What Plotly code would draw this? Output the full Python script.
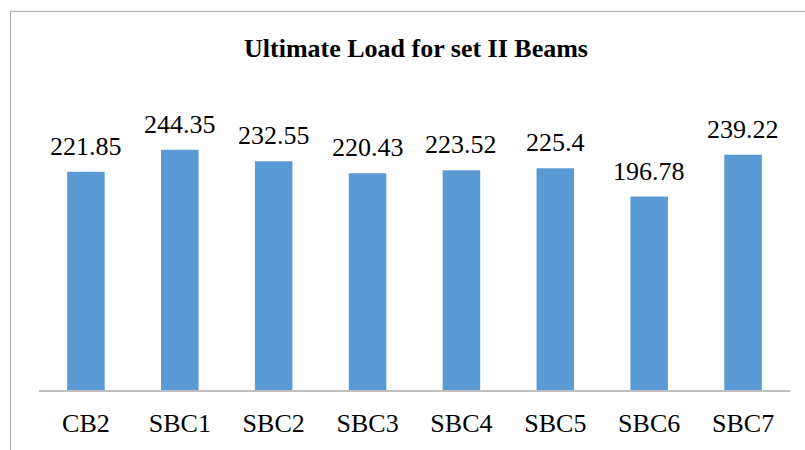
import plotly.graph_objects as go

categories = ["CB2", "SBC1", "SBC2", "SBC3", "SBC4", "SBC5", "SBC6", "SBC7"]
loads = [221.85, 244.35, 232.55, 220.43, 223.52, 225.4, 196.78, 239.22]
labels = ["221.85", "244.35", "232.55", "220.43", "223.52", "225.4", "196.78", "239.22"]

W, H = 805, 450
ML, MR, MT, MB = 39, 15, 95, 57
plot_w = W - ML - MR
plot_h = H - MT - MB

serif = "Liberation Serif, Times New Roman, serif"
FS = 26

fig = go.Figure(go.Bar(
    x=categories, y=loads, marker=dict(color="#5B9BD5", line=dict(width=0)),
    hoverinfo="x+y",
))

for c, v, t in zip(categories, loads, labels):
    fig.add_annotation(x=c, y=v, text=t, showarrow=False, yanchor="bottom",
                       yshift=9, font=dict(family=serif, size=FS, color="#000"))

# outer chart frame
def px_x(p):
    return (p - ML) / plot_w

def px_y(p):
    return (H - MB - p) / plot_h

fig.add_shape(type="rect", xref="paper", yref="paper",
              x0=px_x(10.5), x1=px_x(W + 20), y0=px_y(10.5), y1=px_y(H + 20),
              line=dict(color="#A6A6A6", width=1), fillcolor="rgba(0,0,0,0)", layer="below")

fig.update_layout(
    width=W, height=H,
    margin=dict(l=ML, r=MR, t=MT, b=MB),
    paper_bgcolor="white", plot_bgcolor="white",
    bargap=0.6,
    showlegend=False,
    title=dict(text="<b>Ultimate Load for set II Beams</b>", x=416 / W, xanchor="center",
               y=1 - 48 / H, yanchor="middle",
               font=dict(family=serif, size=FS, color="#000")),
    xaxis=dict(showline=True, linecolor="#BFBFBF", linewidth=1.5, ticks="",
               ticklabelstandoff=9,
               tickfont=dict(family=serif, size=FS, color="#000"), showgrid=False),
    yaxis=dict(range=[0, 300], visible=False, showgrid=False, zeroline=False),
)

fig.write_html("out.html")
